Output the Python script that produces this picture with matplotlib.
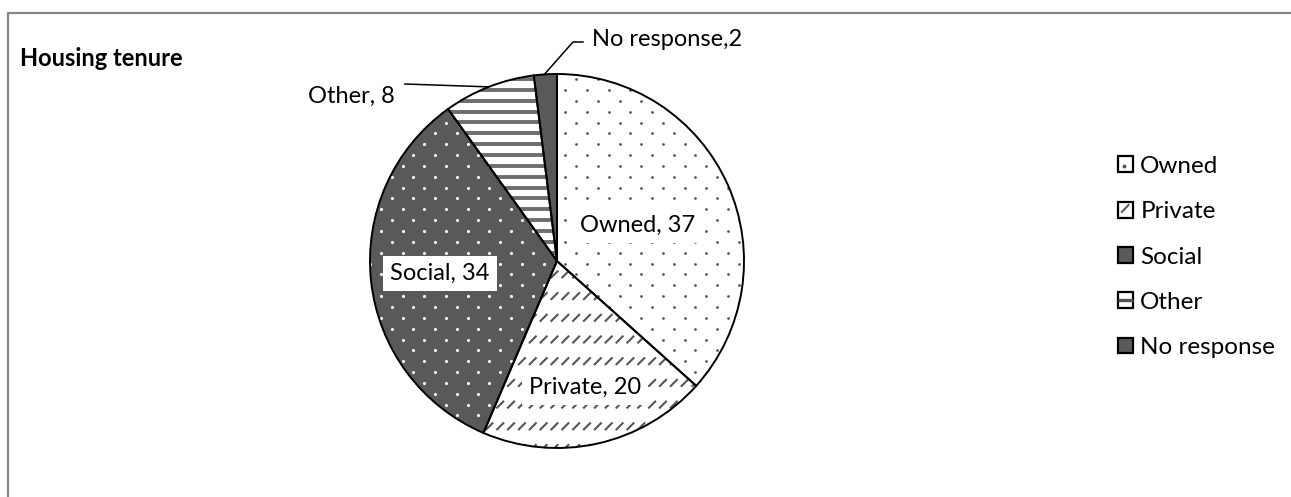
import matplotlib.pyplot as plt
import numpy as np
from matplotlib.legend_handler import HandlerBase
from matplotlib.lines import Line2D
from matplotlib.patches import Patch, Rectangle
from matplotlib.path import Path

WIDTH_PX = 1291
HEIGHT_PX = 497
DPI = 100

categories = ["Owned", "Private", "Social", "Other", "No response"]
values = [37, 20, 34, 8, 2]

face_colors = ["white", "white", "#595959", "white", "#595959"]
legend_marks = ["dot", "slash", "", "stripe", ""]

plt.rcParams["font.family"] = ["Lato", "DejaVu Sans"]

CENTER = (557, HEIGHT_PX - 261)
RADIUS = 187
CELL = 21.7  # texture repeat, px
LABEL_FONT = 17

SLASH = Path([(-1, -1), (1, 1)], [Path.MOVETO, Path.LINETO])


def lattice(step_x, step_y, stagger):
    # Regular texture grid covering the pie's bounding box.
    cx, cy = CENTER
    pts = []
    for j, y in enumerate(np.arange(cy - RADIUS - step_y, cy + RADIUS + step_y, step_y)):
        shift = (step_x / 2) if (stagger and j % 2) else 0
        for x in np.arange(cx - RADIUS - step_x, cx + RADIUS + step_x, step_x):
            pts.append((x + shift, y))
    return np.array(pts)


def add_dots(ax, wedge, color, size):
    pts = lattice(CELL, CELL / 2, True)
    coll = ax.scatter(pts[:, 0], pts[:, 1], s=size, c=color, marker="o",
                      linewidths=0, zorder=3)
    coll.set_clip_path(wedge)


def add_slashes(ax, wedge, color):
    pts = lattice(CELL / 2, CELL, False)
    coll = ax.scatter(pts[:, 0], pts[:, 1], s=30, marker=SLASH,
                      facecolors="none", edgecolors=color, linewidths=1.5,
                      zorder=3)
    coll.set_clip_path(wedge)


def add_stripes(ax, wedge, color):
    cx, cy = CENTER
    for y in np.arange(cy - RADIUS, cy + RADIUS, CELL / 2):
        line, = ax.plot([cx - RADIUS, cx + RADIUS], [y, y], color=color,
                        lw=2.8, zorder=3, solid_capstyle="butt")
        line.set_clip_path(wedge)


class PatternHandler(HandlerBase):
    # Small outlined square with one sample of the slice's pattern inside.
    def create_artists(self, legend, orig_handle, xdescent, ydescent,
                       width, height, fontsize, trans):
        x0, y0 = -xdescent, -ydescent
        box = Rectangle((x0, y0), width, height, transform=trans,
                        facecolor=orig_handle.get_facecolor(),
                        edgecolor="black", linewidth=1.6)
        artists = [box]
        mark = orig_handle.get_gid()
        cx, cy = x0 + width / 2, y0 + height / 2
        if mark == "dot":
            artists.append(Line2D([cx - width * 0.12], [cy - height * 0.12],
                                  marker="o", markersize=1.8, color="#555555",
                                  linestyle="none", transform=trans))
        elif mark == "slash":
            artists.append(Line2D([x0 + width * 0.25, x0 + width * 0.7],
                                  [y0 + height * 0.35, y0 + height * 0.8],
                                  color="#555555", lw=1.4, transform=trans))
        elif mark == "stripe":
            artists.append(Line2D([x0, x0 + width], [cy, cy], color="#555555",
                                  lw=2.4, transform=trans,
                                  solid_capstyle="butt"))
        return artists


def main():
    fig = plt.figure(figsize=(WIDTH_PX / DPI, HEIGHT_PX / DPI), dpi=DPI)
    fig.patch.set_facecolor("white")
    # Work in pixel-like coordinates across the whole figure.
    ax = fig.add_axes([0, 0, 1, 1])

    wedges, _ = ax.pie(values, startangle=90, counterclock=False,
                       colors=face_colors, center=CENTER, radius=RADIUS,
                       frame=True, wedgeprops={"linewidth": 0})

    # Pattern fills, clipped to each wedge.
    add_dots(ax, wedges[0], "#5a5a5a", 4)
    add_slashes(ax, wedges[1], "#555555")
    add_dots(ax, wedges[2], "white", 5)
    add_stripes(ax, wedges[3], "#6e6e6e")

    # Black outlines on top of the textures.
    outline, _ = ax.pie(values, startangle=90, counterclock=False,
                        center=CENTER, radius=RADIUS, frame=True,
                        wedgeprops={"linewidth": 1.4, "edgecolor": "black",
                                    "facecolor": "none"})
    for w in outline:
        w.set_zorder(4)

    ax.set_xlim(0, WIDTH_PX)
    ax.set_ylim(0, HEIGHT_PX)
    ax.set_aspect("equal")
    ax.axis("off")

    def wedge_point(w, frac):
        ang = np.deg2rad(0.5 * (w.theta1 + w.theta2))
        return (CENTER[0] + frac * RADIUS * np.cos(ang),
                CENTER[1] + frac * RADIUS * np.sin(ang))

    box = {"boxstyle": "square,pad=0.3", "facecolor": "white",
           "edgecolor": "none"}

    # Inside labels for the three large slices.
    for i, frac in zip(range(3), [0.47, 0.69, 0.63]):
        x, y = wedge_point(wedges[i], frac)
        ax.text(x, y, f"{categories[i]}, {values[i]}", ha="center",
                va="center", fontsize=LABEL_FONT, bbox=box, zorder=5)

    # Outside labels with leader lines.
    x, y = wedge_point(wedges[3], 1.0)
    ax.plot([405, x], [HEIGHT_PX - 84, y], color="black", lw=1.1, zorder=5)
    ax.text(395, HEIGHT_PX - 96, f"{categories[3]}, {values[3]}",
            ha="right", va="center", fontsize=LABEL_FONT)

    x, y = wedge_point(wedges[4], 1.0)
    ax.plot([x - 1, 573, 583], [y, HEIGHT_PX - 42, HEIGHT_PX - 42],
            color="black", lw=1.1, zorder=5)
    ax.text(592, HEIGHT_PX - 40, f"{categories[4]},{values[4]}",
            ha="left", va="center", fontsize=LABEL_FONT)

    fig.text(20 / WIDTH_PX, 1 - 59 / HEIGHT_PX, "Housing tenure",
             fontsize=17, fontweight="bold", ha="left", va="center")

    handles = [Patch(facecolor=fc, gid=m)
               for fc, m in zip(face_colors, legend_marks)]
    fig.legend(handles, categories, loc="center left",
               bbox_to_anchor=(1118 / WIDTH_PX, 1 - 257 / HEIGHT_PX),
               frameon=False, fontsize=17.5, handlelength=0.62,
               handleheight=0.62, handletextpad=0.3, labelspacing=1.0,
               borderpad=0, borderaxespad=0,
               handler_map={Patch: PatternHandler()})

    # The chart frame is cropped: only its top and left edges are visible.
    fig.add_artist(Line2D([8 / WIDTH_PX, 8 / WIDTH_PX, 1],
                          [0, 1 - 13 / HEIGHT_PX, 1 - 13 / HEIGHT_PX],
                          transform=fig.transFigure, color="#868686",
                          lw=1.6))

    fig.savefig("out.png", dpi=DPI)
    plt.close(fig)


if __name__ == "__main__":
    main()
